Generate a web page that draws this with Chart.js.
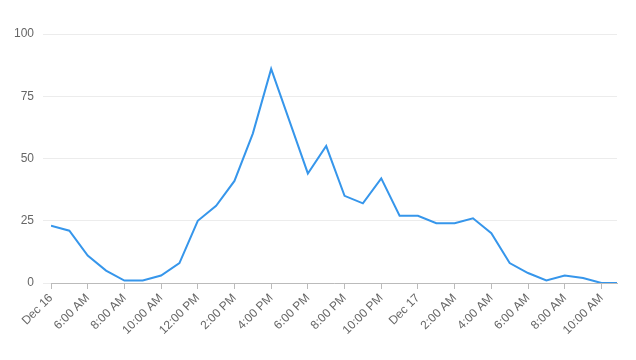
<!DOCTYPE html>
<html>
<head>
<meta charset="utf-8">
<script src="https://cdn.jsdelivr.net/npm/chart.js@4/dist/chart.umd.min.js"></script>
<style>
  html, body { margin: 0; padding: 0; background: #fff; }
  #wrap { width: 636px; height: 360px; }
</style>
</head>
<body>
<div id="wrap"><canvas id="line-chart"></canvas></div>
<script>
// hours since Dec 16, 4:00 AM
const hours = [0, 1, 2, 3, 4, 5, 6, 7, 8, 9, 10, 11, 12, 13, 14, 15,
    16, 17, 18, 19, 20, 21, 22, 23, 24, 25, 26, 27, 28, 29, 30, 30.85];
const values = [23, 21, 11, 5, 1, 1, 3, 8, 25, 31, 41, 60, 86, 65, 44, 55,
    35, 32, 42, 27, 27, 24, 24, 26, 20, 8, 4, 1, 3, 2, 0, 0];
const tickHours = [0, 2, 4, 6, 8, 10, 12, 14, 16, 18, 20, 22, 24, 26, 28, 30];
const tickLabels = ["Dec 16", "6:00 AM", "8:00 AM", "10:00 AM", "12:00 PM", "2:00 PM",
    "4:00 PM", "6:00 PM", "8:00 PM", "10:00 PM", "Dec 17", "2:00 AM", "4:00 AM",
    "6:00 AM", "8:00 AM", "10:00 AM"];
const yTicks = [0, 25, 50, 75, 100];

Chart.defaults.font.family = "'Liberation Sans', Arial, sans-serif";
Chart.defaults.font.size = 12;
Chart.defaults.color = '#666';

const ctx = document.getElementById('line-chart');

const chart = new Chart(ctx, {
    type: 'line',
    data: {
        datasets: [{
            label: 'Count',
            data: hours.map((h, i) => ({ x: h, y: values[i] })),
            borderColor: 'rgb(54, 150, 235)',
            borderWidth: 2,
            pointRadius: 0,
            tension: 0,
            fill: false
        }]
    },
    options: {
        responsive: true,
        maintainAspectRatio: false,
        animation: false,
        layout: {
            padding: { left: 0, right: 19, top: 34, bottom: 0 }
        },
        plugins: {
            legend: { display: false },
            tooltip: { enabled: false }
        },
        scales: {
            x: {
                type: 'linear',
                min: 0,
                max: 30.85,
                afterBuildTicks: (scale) => {
                    scale.ticks = tickHours.map(v => ({ value: v }));
                },
                ticks: {
                    autoSkip: false,
                    maxRotation: 45,
                    minRotation: 45,
                    padding: 2,
                    callback: (value) => {
                        const i = tickHours.indexOf(value);
                        return i >= 0 ? tickLabels[i] : '';
                    }
                },
                grid: {
                    drawOnChartArea: false,
                    color: '#bbb',
                    tickLength: 6
                },
                border: { color: '#bbb' },
                afterFit: (scale) => { scale.height = 77; }
            },
            y: {
                min: 0,
                max: 100,
                afterBuildTicks: (scale) => {
                    scale.ticks = yTicks.map(v => ({ value: v }));
                },
                ticks: {
                    padding: 9
                },
                grid: {
                    color: '#ececec',
                    tickLength: 8
                },
                border: { display: false },
                afterFit: (scale) => { scale.width = 51; }
            }
        }
    }
});
</script>
</body>
</html>
